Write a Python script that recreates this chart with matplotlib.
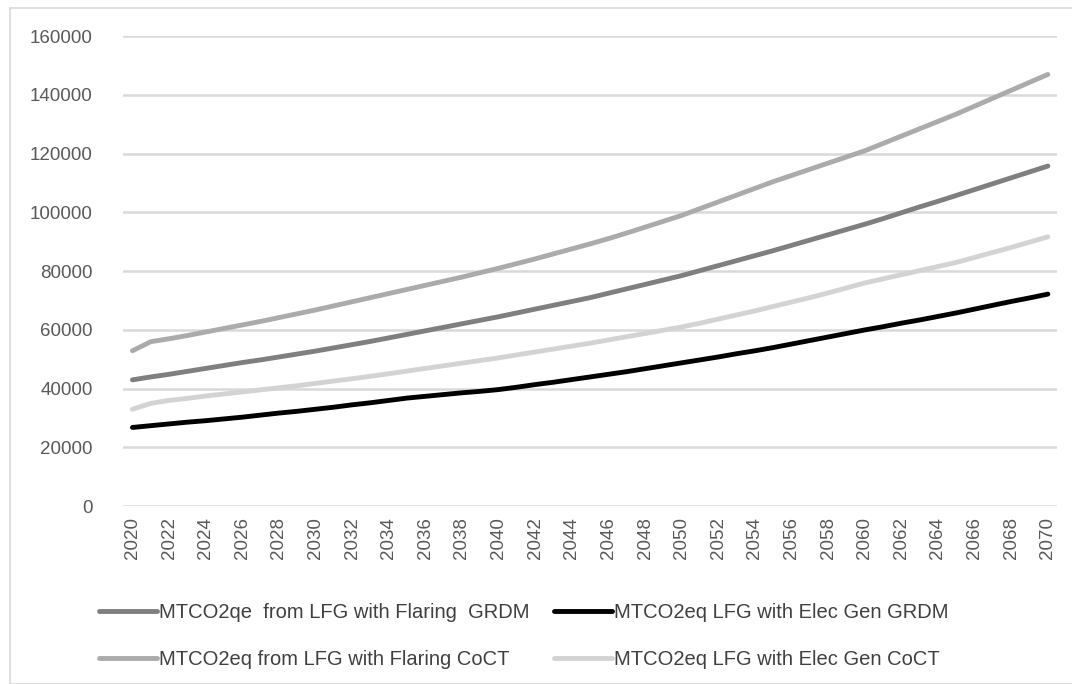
import matplotlib.pyplot as plt
from matplotlib.patches import Rectangle

years = list(range(2020, 2071))

# MTCO2qe from LFG with Flaring GRDM
flaring_grdm = [43000, 44000, 44900, 45900, 46900, 47900, 48900, 49800, 50800, 51800,
                52800, 53900, 55000, 56100, 57300, 58500, 59700, 60900, 62100, 63300,
                64500, 65800, 67100, 68400, 69700, 71000, 72500, 74000, 75500, 77000,
                78500, 80200, 81900, 83600, 85300, 87000, 88800, 90600, 92400, 94200,
                96000, 97900, 99900, 101900, 103800, 105800, 107800, 109800, 111800, 113800,
                115800]

# MTCO2eq LFG with Elec Gen GRDM
elec_grdm = [26800, 27400, 28000, 28600, 29100, 29700, 30300, 31000, 31700, 32300,
             33000, 33700, 34500, 35200, 36000, 36800, 37400, 38000, 38600, 39100,
             39700, 40500, 41400, 42200, 43100, 44000, 44900, 45800, 46800, 47800,
             48800, 49800, 50800, 51900, 52900, 54000, 55200, 56400, 57600, 58800,
             60000, 61100, 62300, 63400, 64600, 65800, 67100, 68400, 69700, 70900,
             72200]

# MTCO2eq from LFG with Flaring CoCT
flaring_coct = [52900, 56000, 57000, 58100, 59300, 60500, 61700, 62900, 64200, 65500,
                66800, 68200, 69600, 71000, 72400, 73800, 75200, 76600, 78000, 79500,
                81000, 82600, 84200, 85900, 87600, 89300, 91100, 93000, 95000, 97000,
                99000, 101300, 103600, 105900, 108200, 110500, 112600, 114700, 116800, 118900,
                121000, 123500, 126000, 128500, 131000, 133500, 136200, 138900, 141600, 144300,
                147000]

# MTCO2eq LFG with Elec Gen CoCT
elec_coct = [33000, 35000, 36000, 36700, 37500, 38200, 38900, 39600, 40300, 41000,
             41800, 42600, 43400, 44200, 45100, 46000, 46900, 47800, 48700, 49600,
             50500, 51500, 52500, 53500, 54500, 55500, 56600, 57700, 58800, 59900,
             61000, 62300, 63700, 65100, 66500, 68000, 69500, 71000, 72600, 74300,
             76000, 77400, 78800, 80200, 81600, 83000, 84700, 86400, 88100, 89900,
             91700]

labels = ['MTCO2qe  from LFG with Flaring  GRDM',
          'MTCO2eq LFG with Elec Gen GRDM',
          'MTCO2eq from LFG with Flaring CoCT',
          'MTCO2eq LFG with Elec Gen CoCT']
colors = ['#7F7F7F', '#000000', '#ABABAB', '#D3D3D3']
series = [flaring_grdm, elec_grdm, flaring_coct, elec_coct]

plt.rcParams['font.family'] = ['Liberation Sans', 'DejaVu Sans']

fig = plt.figure(figsize=(10.72, 6.84), dpi=100)
ax = fig.add_axes([0.115, 0.260, 0.871, 0.687])

lines = []
for vals, col, lab in zip(series, colors, labels):
    ln, = ax.plot(years, vals, color=col, lw=3.5, label=lab, solid_capstyle='round')
    lines.append(ln)

ax.set_xlim(2019.5, 2070.5)
ax.set_ylim(0, 160000)
ax.set_yticks(range(0, 160001, 20000))
ax.set_xticks(years[::2])
ax.set_xticklabels([str(y) for y in years[::2]], rotation=90)
ax.tick_params(axis='both', length=0, labelsize=13.5, colors='#595959', pad=8)
ax.tick_params(axis='y', pad=22)
ax.grid(axis='y', color='#D9D9D9', lw=1.8)
ax.set_axisbelow(True)
for s in ax.spines.values():
    s.set_visible(False)

# legend: row 1 GRDM, row 2 CoCT
order = [0, 2, 1, 3]
leg = fig.legend([lines[i] for i in order], [labels[i] for i in order],
                 ncol=2, loc='upper left', bbox_to_anchor=(0.075, 0.145),
                 frameon=False, handlelength=2.9, handletextpad=0.1,
                 columnspacing=1.2, labelspacing=1.4,
                 prop={'size': 14.5})
for t in leg.get_texts():
    t.set_color('#404040')

# chart border
fig.patches.append(Rectangle((10 / 1072, 0), 1.0, 1 - 8 / 684, transform=fig.transFigure,
                             fill=False, edgecolor='#D9D9D9', lw=1.2))

fig.savefig('out.png', dpi=100)
